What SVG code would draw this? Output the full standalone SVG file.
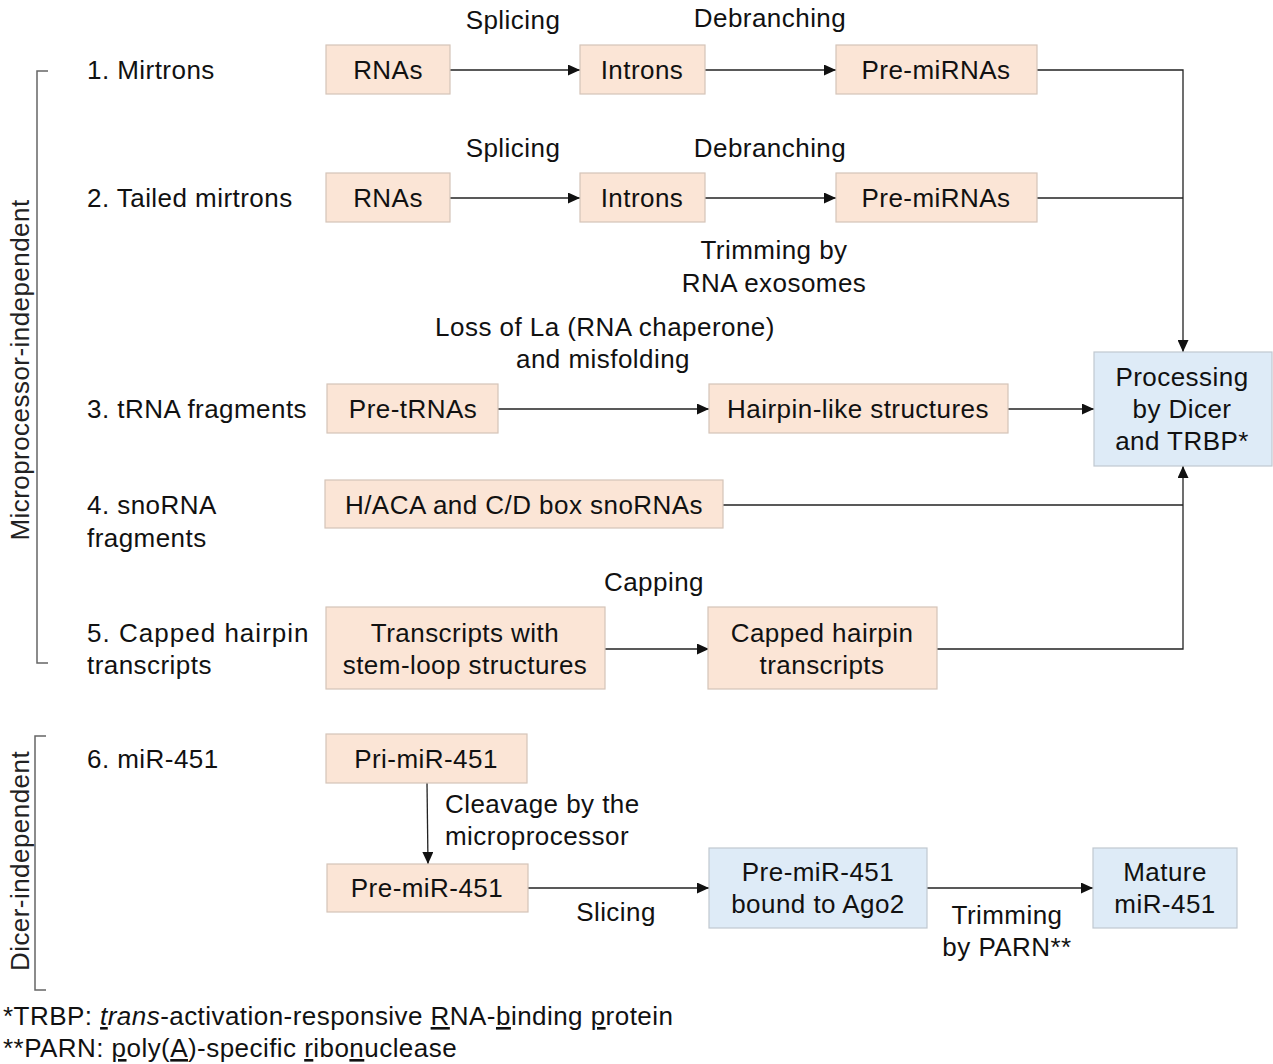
<svg xmlns="http://www.w3.org/2000/svg" width="1273" height="1064" viewBox="0 0 1273 1064">
<defs>
<style>
text{font-family:"Liberation Sans",Arial,sans-serif;font-size:26px;letter-spacing:0.45px;fill:#111;}
.m{text-anchor:middle;}
.pk{fill:#FBE5D6;stroke:#D4C4B8;stroke-width:1.2;}
.bl{fill:#DEEBF7;stroke:#C0C8D0;stroke-width:1.2;}
.ln{fill:none;stroke:#222;stroke-width:1.3;}
.br{fill:none;stroke:#666;stroke-width:1.5;}
.side{fill:#222;}
</style>
<marker id="ah" viewBox="0 0 12 11" refX="12" refY="5.5" markerWidth="12" markerHeight="11" markerUnits="userSpaceOnUse" orient="auto">
<path d="M0,0 L12,5.5 L0,11 Z" fill="#111"/>
</marker>
</defs>
<rect width="1273" height="1064" fill="#fff"/>

<g id="brackets">
<path class="br" d="M48,71 H37 V663 H48"/>
<text class="m side" transform="translate(29,370) rotate(-90)">Microprocessor-independent</text>
<path class="br" d="M46,736 H35 V990 H46"/>
<text class="m side" transform="translate(29,861) rotate(-90)">Dicer-independent</text>
</g>

<g id="row-labels">
<text x="87" y="79">1. Mirtrons</text>
<text x="87" y="207">2. Tailed mirtrons</text>
<text x="87" y="418">3. tRNA fragments</text>
<text x="87" y="514">4. snoRNA</text>
<text x="87" y="547">fragments</text>
<text x="87" y="642" textLength="222" lengthAdjust="spacing">5. Capped hairpin</text>
<text x="87" y="674">transcripts</text>
<text x="87" y="768">6. miR-451</text>
</g>

<g id="connectors">
<line class="ln" x1="450" y1="70" x2="580" y2="70" marker-end="url(#ah)"/>
<line class="ln" x1="705" y1="70" x2="836" y2="70" marker-end="url(#ah)"/>
<line class="ln" x1="450" y1="198" x2="580" y2="198" marker-end="url(#ah)"/>
<line class="ln" x1="705" y1="198" x2="836" y2="198" marker-end="url(#ah)"/>
<path class="ln" d="M1037,70 H1183 V352" marker-end="url(#ah)"/>
<path class="ln" d="M1037,198 H1183"/>
<line class="ln" x1="498" y1="409" x2="709" y2="409" marker-end="url(#ah)"/>
<line class="ln" x1="1008" y1="409" x2="1094" y2="409" marker-end="url(#ah)"/>
<path class="ln" d="M937,649 H1183 V466" marker-end="url(#ah)"/>
<path class="ln" d="M723,505 H1183"/>
<line class="ln" x1="605" y1="649" x2="709" y2="649" marker-end="url(#ah)"/>
<line class="ln" x1="427" y1="783" x2="428" y2="864" marker-end="url(#ah)"/>
<line class="ln" x1="528" y1="888" x2="709" y2="888" marker-end="url(#ah)"/>
<line class="ln" x1="927" y1="888" x2="1093" y2="888" marker-end="url(#ah)"/>
</g>

<g id="edge-labels">
<text class="m" x="513" y="29">Splicing</text>
<text class="m" x="770" y="27">Debranching</text>
<text class="m" x="513" y="157">Splicing</text>
<text class="m" x="770" y="157">Debranching</text>
<text class="m" x="774" y="259">Trimming by</text>
<text class="m" x="774" y="292">RNA exosomes</text>
<text class="m" x="605" y="336">Loss of La (RNA chaperone)</text>
<text class="m" x="603" y="368">and misfolding</text>
<text class="m" x="654" y="591">Capping</text>
<text x="445" y="813">Cleavage by the</text>
<text x="445" y="845">microprocessor</text>
<text class="m" x="616" y="921">Slicing</text>
<text class="m" x="1007" y="924">Trimming</text>
<text class="m" x="1007" y="956">by PARN**</text>
</g>

<g id="n-rnas1"><rect class="pk" x="326" y="45" width="124" height="49"/><text class="m" x="388" y="79">RNAs</text></g>
<g id="n-introns1"><rect class="pk" x="580" y="45" width="125" height="49"/><text class="m" x="642" y="79">Introns</text></g>
<g id="n-premi1"><rect class="pk" x="836" y="45" width="201" height="49"/><text class="m" x="936" y="79">Pre-miRNAs</text></g>
<g id="n-rnas2"><rect class="pk" x="326" y="173" width="124" height="49"/><text class="m" x="388" y="207">RNAs</text></g>
<g id="n-introns2"><rect class="pk" x="580" y="173" width="125" height="49"/><text class="m" x="642" y="207">Introns</text></g>
<g id="n-premi2"><rect class="pk" x="836" y="173" width="201" height="49"/><text class="m" x="936" y="207">Pre-miRNAs</text></g>
<g id="n-pretrna"><rect class="pk" x="327" y="384" width="171" height="49"/><text class="m" x="413" y="418">Pre-tRNAs</text></g>
<g id="n-hairpin"><rect class="pk" x="709" y="384" width="299" height="49"/><text class="m" x="858" y="418">Hairpin-like structures</text></g>
<g id="n-processing"><rect class="bl" x="1094" y="352" width="178" height="114"/><text class="m" x="1182" y="386">Processing</text><text class="m" x="1182" y="418">by Dicer</text><text class="m" x="1182" y="450">and TRBP*</text></g>
<g id="n-snorna"><rect class="pk" x="325" y="480" width="398" height="48"/><text class="m" x="524" y="514">H/ACA and C/D box snoRNAs</text></g>
<g id="n-transcripts"><rect class="pk" x="326" y="607" width="279" height="82"/><text class="m" x="465" y="642">Transcripts with</text><text class="m" x="465" y="674">stem-loop structures</text></g>
<g id="n-capped"><rect class="pk" x="708" y="607" width="229" height="82"/><text class="m" x="822" y="642">Capped hairpin</text><text class="m" x="822" y="674">transcripts</text></g>
<g id="n-primir"><rect class="pk" x="326" y="734" width="201" height="49"/><text class="m" x="426" y="768">Pri-miR-451</text></g>
<g id="n-premir"><rect class="pk" x="327" y="864" width="201" height="48"/><text class="m" x="427" y="897">Pre-miR-451</text></g>
<g id="n-ago2"><rect class="bl" x="709" y="848" width="218" height="80"/><text class="m" x="818" y="881">Pre-miR-451</text><text class="m" x="818" y="913">bound to Ago2</text></g>
<g id="n-mature"><rect class="bl" x="1093" y="848" width="144" height="80"/><text class="m" x="1165" y="881">Mature</text><text class="m" x="1165" y="913">miR-451</text></g>

<g id="footnotes">
<text x="3" y="1025">*TRBP: <tspan font-style="italic" text-decoration="underline">t</tspan><tspan font-style="italic">rans</tspan>-activation-responsive <tspan text-decoration="underline">R</tspan>NA-<tspan text-decoration="underline">b</tspan>inding <tspan text-decoration="underline">p</tspan>rotein</text>
<text x="3" y="1057">**PARN: <tspan text-decoration="underline">p</tspan>oly(<tspan text-decoration="underline">A</tspan>)-specific <tspan text-decoration="underline">r</tspan>ibo<tspan text-decoration="underline">n</tspan>uclease</text>
</g>
</svg>
